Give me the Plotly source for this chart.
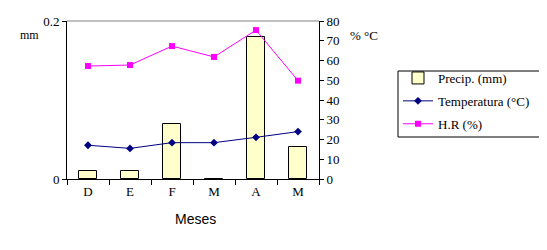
import plotly.graph_objects as go

months = ["D", "E", "F", "M", "A", "M"]
precip = [0.01, 0.01, 0.07, 0.0, 0.18, 0.04]
temperatura = [17.1, 15.5, 18.4, 18.4, 21.1, 24.0]
hr = [57.2, 57.7, 67.3, 61.8, 75.4, 49.8]

xpos = list(range(len(months)))
serif = "Liberation Serif"

# page body has an 8px margin; plot area target: x 67..319, y 21..179 (page px)
OFF = 8
PL, PR, PT, PB = 67, 319, 21, 179
W, H = 547 - OFF, 250 - OFF
PW, PH = PR - PL, PB - PT

def px(x):
    return (x - PL) / PW

def py(y):
    return (PB - y) / PH

fig = go.Figure()
fig.add_trace(go.Bar(
    x=xpos, y=precip, name="Precip. (mm)", width=0.41,
    marker=dict(color="#FFFFCC", line=dict(color="black", width=1)),
    legendgroup="a", yaxis="y"))
fig.add_trace(go.Scatter(
    x=xpos, y=temperatura, name="Temperatura (°C)", mode="lines+markers",
    line=dict(color="#000080", width=1),
    marker=dict(symbol="diamond", size=6, color="#000080"),
    legendgroup="b", yaxis="y2"))
fig.add_trace(go.Scatter(
    x=xpos, y=hr, name="H.R (%)", mode="lines+markers",
    line=dict(color="#FF00FF", width=1),
    marker=dict(symbol="square", size=6, color="#FF00FF"),
    legendgroup="c", yaxis="y2"))

fig.update_layout(
    width=W, height=H,
    margin=dict(l=PL - OFF, r=547 - PR, t=PT - OFF, b=250 - PB, autoexpand=False),
    paper_bgcolor="white", plot_bgcolor="white",
    font=dict(family=serif, size=13, color="black"),
    showlegend=True,
    legend=dict(x=px(398), y=py(63), xanchor="left", yanchor="top",
                borderwidth=0, bgcolor="rgba(0,0,0,0)",
                font=dict(family=serif, size=13, color="black"),
                tracegroupgap=3, itemwidth=30),
    xaxis=dict(range=[-0.5, 5.5], tickmode="array", tickvals=xpos,
               ticktext=months, ticks="", showgrid=False, zeroline=False,
               showline=True, linecolor="black", linewidth=1,
               minor=dict(tick0=-0.5, dtick=1, ticks="outside", ticklen=5,
                          tickcolor="black", showgrid=False),
               tickfont=dict(family=serif, size=13)),
    yaxis=dict(range=[0, 0.2], tickmode="array", tickvals=[0, 0.2],
               ticktext=["0", "0.2"], ticks="outside", ticklen=4,
               tickcolor="black", showgrid=False, zeroline=False,
               showline=True, linecolor="black", linewidth=1,
               tickfont=dict(family=serif, size=13)),
    yaxis2=dict(range=[0, 80], dtick=10, overlaying="y", side="right",
                ticks="outside", ticklen=4, tickcolor="black",
                showgrid=False, zeroline=False, showline=True,
                linecolor="black", linewidth=1,
                tickfont=dict(family=serif, size=13)),
    bargap=0,
)

# top border of the plot area
fig.add_shape(type="line", xref="paper", yref="paper", x0=0, x1=1, y0=1, y1=1,
              line=dict(color="#808080", width=1))
# legend frame
fig.add_shape(type="rect", xref="paper", yref="paper",
              x0=px(398), x1=px(542), y0=py(137), y1=py(71),
              line=dict(color="black", width=1))

fig.add_annotation(text="mm", xref="paper", yref="paper",
                   x=px(29), y=py(35), xanchor="center", yanchor="middle",
                   showarrow=False, font=dict(family=serif, size=12))
fig.add_annotation(text="% °C", xref="paper", yref="paper",
                   x=px(364), y=py(35), xanchor="center", yanchor="middle",
                   showarrow=False, font=dict(family=serif, size=13))
fig.add_annotation(text="Meses", xref="paper", yref="paper",
                   x=px(195), y=py(219), xanchor="center", yanchor="middle",
                   showarrow=False, font=dict(family="Liberation Sans", size=14))

fig.write_html("out.html")
